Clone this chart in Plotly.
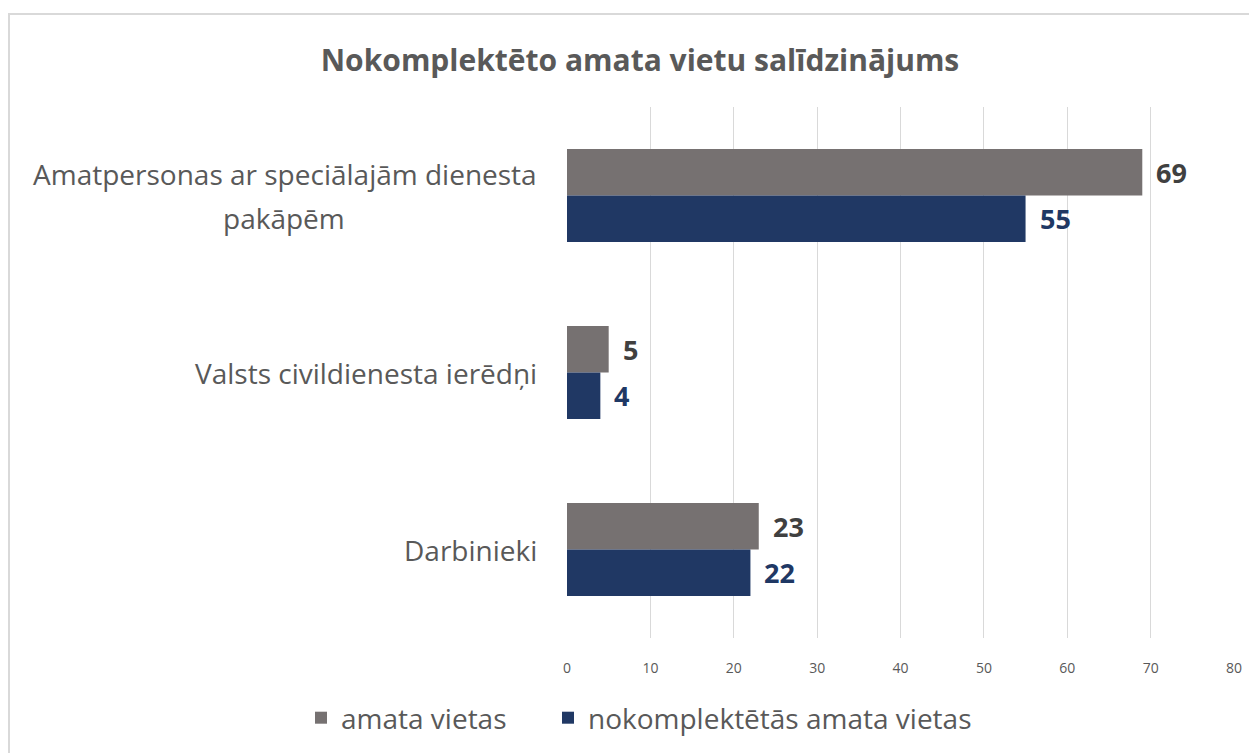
import plotly.graph_objects as go

categories = ["Amatpersonas ar speciālajām dienesta<br>pakāpēm", "Valsts civildienesta ierēdņi", "Darbinieki"]
amata_vietas = [69, 5, 23]
nokomplektetas = [55, 4, 22]
series_names = ["amata vietas", "nokomplektētās amata vietas"]
x_ticks = [0, 10, 20, 30, 40, 50, 60, 70, 80]

GRAY = "#767171"
NAVY = "#203864"
TXT = "#595959"
FONT = "Open Sans"

O = 8  # page body margin offset
W, H = 1257 - O, 753 - O
ML, MR, MT, MB = 567 - O, 23, 107 - O, 115
PW, PH = W - ML - MR, H - MT - MB

fig = go.Figure()
fig.add_trace(go.Bar(y=categories, x=amata_vietas, orientation="h", name=series_names[0],
                     marker=dict(color=GRAY, line=dict(width=0)), legend="legend"))
fig.add_trace(go.Bar(y=categories, x=nokomplektetas, orientation="h", name=series_names[1],
                     marker=dict(color=NAVY, line=dict(width=0)), legend="legend2"))

bargap = 0.475
band = PH / len(categories)
off = band * (1 - bargap) / 4

LBL = 28
annotations = []
for c, v in zip(categories, amata_vietas):
    annotations.append(dict(x=v, y=c, xref="x", yref="y", text=f"<b>{v}</b>", showarrow=False,
                            xanchor="left", yanchor="middle", xshift=12, yshift=off,
                            font=dict(family=FONT, size=27, color="#404040")))
for c, v in zip(categories, nokomplektetas):
    annotations.append(dict(x=v, y=c, xref="x", yref="y", text=f"<b>{v}</b>", showarrow=False,
                            xanchor="left", yanchor="middle", xshift=12, yshift=-off,
                            font=dict(family=FONT, size=27, color="#1F3864")))

line_gap = 44
first_line_w = 511
for c in categories:
    lines = c.split("<br>")
    n = len(lines)
    for i, ln in enumerate(lines):
        ys = ((n - 1) / 2 - i) * line_gap
        if i == 0:
            annotations.append(dict(x=0, y=c, xref="paper", yref="y", text=ln, showarrow=False,
                                    xanchor="right", yanchor="middle", xshift=-28, yshift=ys,
                                    font=dict(family=FONT, size=LBL, color=TXT)))
        else:
            annotations.append(dict(x=0, y=c, xref="paper", yref="y", text=ln, showarrow=False,
                                    xanchor="center", yanchor="middle", xshift=-28 - first_line_w / 2,
                                    yshift=ys, font=dict(family=FONT, size=LBL, color=TXT)))

shapes = [dict(type="rect", xref="paper", yref="paper",
               x0=(9 - O - ML) / PW, x1=(W + 20 - ML) / PW,
               y0=-(MB + 20) / PH, y1=(H - MB - (14 - O)) / PH,
               line=dict(color="#D9D9D9", width=2), fillcolor="rgba(0,0,0,0)", layer="below")]

leg_common = dict(orientation="h", xanchor="left", y=-80 / PH, yanchor="middle",
                  font=dict(family=FONT, size=28, color=TXT), bgcolor="rgba(0,0,0,0)")

fig.update_layout(
    width=W, height=H,
    margin=dict(l=ML, r=MR, t=MT, b=MB, autoexpand=False),
    paper_bgcolor="white", plot_bgcolor="white",
    barmode="group", bargap=bargap, bargroupgap=0,
    title=dict(text="<b>Nokomplektēto amata vietu salīdzinājums</b>", x=(640 - O) / W, xanchor="center",
               y=1 - (60 - O) / H, yanchor="middle", xref="container", yref="container",
               font=dict(family=FONT, size=30, color=TXT)),
    xaxis=dict(range=[0, 80], tickvals=x_ticks, showgrid=True, gridcolor="#D9D9D9", gridwidth=1,
               zeroline=False, showline=False, ticks="", ticklabelstandoff=20,
               tickfont=dict(family=FONT, size=14, color=TXT), fixedrange=True),
    yaxis=dict(autorange="reversed", showticklabels=False, showgrid=False, zeroline=False,
               showline=False, ticks=""),
    legend=dict(x=(321 - 20 - O - ML) / PW, **leg_common),
    legend2=dict(x=(568 - 20 - O - ML) / PW, **leg_common),
    annotations=annotations,
    shapes=shapes,
    showlegend=True,
)

fig.write_html("out.html")
